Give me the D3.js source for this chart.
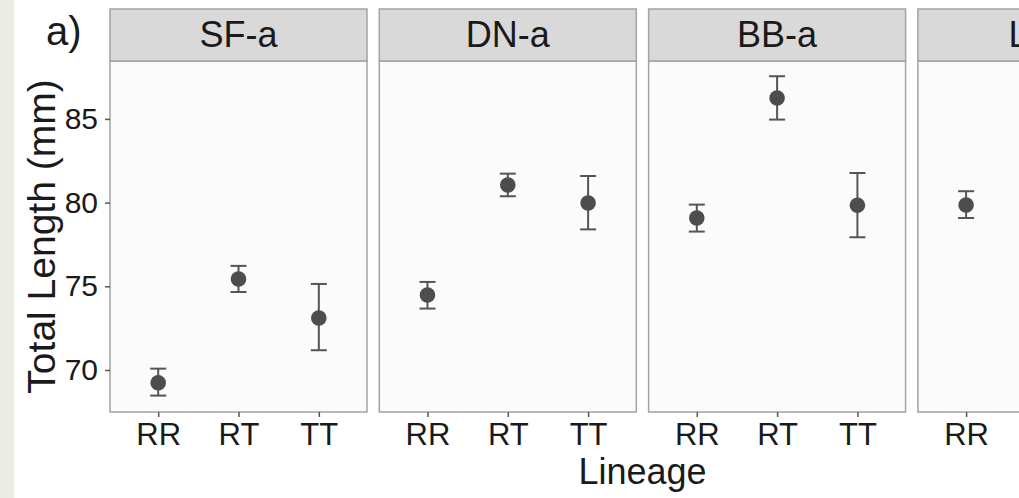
<!DOCTYPE html>
<html><head><meta charset="utf-8">
<script src="https://cdn.jsdelivr.net/npm/d3@7"></script>
<style>
html,body{margin:0;padding:0;background:#fff;overflow:hidden}
svg{display:block}
text{font-family:"Liberation Sans",Arial,Helvetica,sans-serif;fill:#1a1a1a}
</style></head><body>
<script>
// ---- data ----
const panels = ["SF-a", "DN-a", "BB-a", "LB-a"];
const lineages = ["RR", "RT", "TT"];
const yTicks = [70, 75, 80, 85];
// mean, lower, upper per panel (in lineage order); last panel is cut off after RR
const means = [
  [69.24, 75.44, 73.11],
  [74.48, 81.05, 79.98],
  [79.08, 86.25, 79.84],
  [79.86]
];
const lowers = [
  [68.47, 74.66, 71.18],
  [73.67, 80.38, 78.40],
  [78.27, 84.96, 77.93],
  [79.08]
];
const uppers = [
  [70.08, 76.22, 75.14],
  [75.26, 81.73, 81.59],
  [79.88, 87.55, 81.77],
  [80.68]
];
const xTitle = "Lineage";
const yTitle = "Total Length (mm)";
const tag = "a)";

// ---- layout ----
const W = 1019, H = 498;
const plotTop = 61, plotBottom = 412, stripTop = 9;
const svg = d3.select("body").append("svg").attr("width", W).attr("height", H);

svg.append("rect").attr("x", 0).attr("y", 0).attr("width", 14).attr("height", H).attr("fill", "#ecebe4");

const panelScale = d3.scaleBand().domain(panels).range([110, 1174.9]).paddingInner(0.0457).paddingOuter(0);
const y = d3.scaleLinear().domain([67.49, 88.46]).range([plotBottom, plotTop]);

const border = "#a3a3a3";
const ink = "#4d4d4d";

panels.forEach((p, i) => {
  const x0 = panelScale(p), pw = panelScale.bandwidth();
  const g = svg.append("g");
  g.append("rect").attr("x", x0).attr("y", plotTop).attr("width", pw).attr("height", plotBottom - plotTop)
    .attr("fill", "#fbfbfb").attr("stroke", border).attr("stroke-width", 1.5);
  g.append("rect").attr("x", x0).attr("y", stripTop).attr("width", pw).attr("height", plotTop - stripTop)
    .attr("fill", "#d9d9d9").attr("stroke", border).attr("stroke-width", 1.5);
  g.append("text").attr("x", x0 + pw / 2).attr("y", 46.5).attr("text-anchor", "middle")
    .attr("font-size", 36).text(p);

  const x = d3.scalePoint().domain(lineages).range([x0, x0 + pw]).padding(0.6);
  const shown = lineages.slice(0, means[i].length);
  const ax = g.append("g").attr("transform", `translate(0,${plotBottom})`)
    .call(d3.axisBottom(x).tickValues(shown).tickSize(5).tickPadding(6));
  ax.select(".domain").remove();
  ax.selectAll(".tick line").attr("stroke", "#555").attr("stroke-width", 1.5);
  ax.selectAll(".tick text").attr("font-size", 31).attr("fill", "#1a1a1a").attr("font-family", null);

  const data = means[i].map((m, j) => ({ c: lineages[j], m, lo: lowers[i][j], hi: uppers[i][j] }));
  const eb = g.selectAll(".eb").data(data).enter().append("g");
  eb.append("line").attr("x1", d => x(d.c)).attr("x2", d => x(d.c))
    .attr("y1", d => y(d.lo)).attr("y2", d => y(d.hi)).attr("stroke", "#555").attr("stroke-width", 2);
  eb.append("line").attr("x1", d => x(d.c) - 8).attr("x2", d => x(d.c) + 8)
    .attr("y1", d => y(d.hi)).attr("y2", d => y(d.hi)).attr("stroke", "#555").attr("stroke-width", 2);
  eb.append("line").attr("x1", d => x(d.c) - 8).attr("x2", d => x(d.c) + 8)
    .attr("y1", d => y(d.lo)).attr("y2", d => y(d.lo)).attr("stroke", "#555").attr("stroke-width", 2);
  eb.append("circle").attr("cx", d => x(d.c)).attr("cy", d => y(d.m)).attr("r", 7.8).attr("fill", ink);

  if (i === 0) {
    const ay = g.append("g").attr("transform", `translate(${x0},0)`)
      .call(d3.axisLeft(y).tickValues(yTicks).tickSize(5).tickPadding(7));
    ay.select(".domain").remove();
    ay.selectAll(".tick line").attr("stroke", "#555").attr("stroke-width", 1.5);
    ay.selectAll(".tick text").attr("font-size", 30).attr("fill", "#1a1a1a").attr("font-family", null);
  }
});

svg.append("text").attr("x", 642.5).attr("y", 484).attr("text-anchor", "middle").attr("font-size", 36).text(xTitle);
svg.append("text").attr("transform", "translate(55,236.5) rotate(-90)").attr("text-anchor", "middle")
  .attr("font-size", 39).text(yTitle);
svg.append("text").attr("x", 46).attr("y", 45).attr("font-size", 40).text(tag);
</script>
</body></html>
